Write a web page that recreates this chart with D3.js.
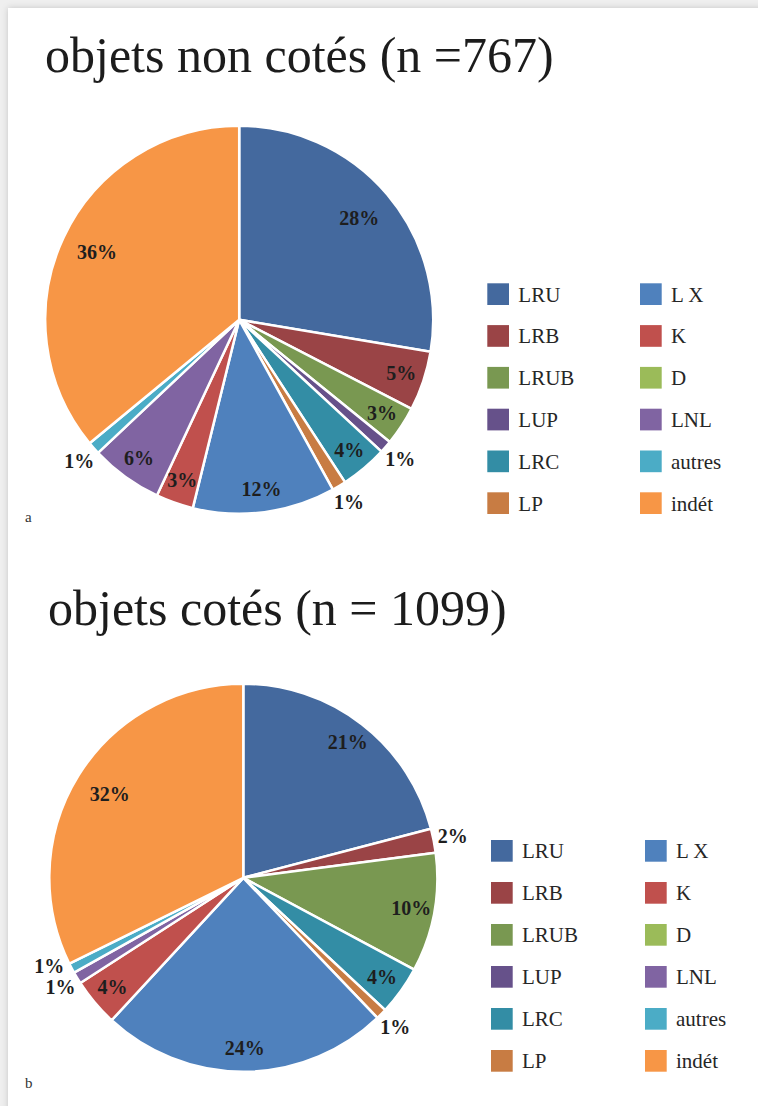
<!DOCTYPE html>
<html>
<head>
<meta charset="utf-8">
<script src="https://cdn.jsdelivr.net/npm/d3@7/dist/d3.min.js"></script>
<style>
  html, body { margin: 0; padding: 0; background: #ffffff; }
  svg { display: block; }
</style>
</head>
<body>
<svg id="chart" width="758" height="1106"></svg>
<script>
// Categories, in drawing order (clockwise from 12 o'clock)
const categories = ["LRU", "LRB", "LRUB", "LUP", "LRC", "LP", "L X", "K", "D", "LNL", "autres", "indét"];
const categoryColors = ["#44699e", "#9a4446", "#799851", "#66518a", "#338da5", "#c87c43",
                        "#4f81bd", "#c0504d", "#9bbb59", "#8064a2", "#4bacc6", "#f79646"];

// Object counts per category
const countsNonCotes = [212, 38, 25, 8, 30, 9, 91, 24, 0, 46, 8, 276]; // n = 767
const countsCotes    = [230, 22, 109, 0, 45, 10, 264, 44, 0, 11, 9, 355]; // n = 1099

const titleNonCotes = "objets non cotés (n =767)";
const titleCotes = "objets cotés (n = 1099)";
const panelLetters = ["a", "b"];

const svg = d3.select("#chart");
const W = 758, H = 1106;

// page background with a soft shadow along the top and left edges
const defs = svg.append("defs");
const shadow = defs.append("filter").attr("id", "pageShadow")
  .attr("x", "-5%").attr("y", "-5%").attr("width", "110%").attr("height", "110%");
shadow.append("feDropShadow").attr("dx", 0).attr("dy", 0)
  .attr("stdDeviation", 3).attr("flood-color", "#000").attr("flood-opacity", 0.18);
svg.append("rect").attr("width", W).attr("height", H).attr("fill", "#efefef");
svg.append("rect").attr("x", 8).attr("y", 8).attr("width", W + 20).attr("height", H + 20)
  .attr("fill", "#ffffff").attr("filter", "url(#pageShadow)");

const color = d3.scaleOrdinal().domain(categories).range(categoryColors);
const serif = "'Liberation Serif', 'DejaVu Serif', serif";

function drawPanel(values, title, letter, layout) {
  const g = svg.append("g");
  const total = d3.sum(values);
  const data = categories.map((c, i) => ({ cat: c, value: values[i] }));

  // title
  g.append("text")
    .attr("x", layout.titleX).attr("y", layout.titleY)
    .attr("font-family", serif).attr("font-size", 50)
    .attr("fill", "#1c1c1c")
    .text(title);

  // panel letter
  g.append("text")
    .attr("x", 25).attr("y", layout.letterY)
    .attr("font-family", serif).attr("font-size", 15)
    .attr("fill", "#333")
    .text(letter);

  const r = layout.r;
  const pie = d3.pie().sort(null).value(d => d.value);
  const arcs = pie(data);
  const arc = d3.arc().innerRadius(0).outerRadius(r);

  const pg = g.append("g").attr("transform", `translate(${layout.cx},${layout.cy})`);
  pg.selectAll("path.slice")
    .data(arcs.filter(d => d.data.value > 0))
    .join("path")
    .attr("class", "slice")
    .attr("d", arc)
    .attr("fill", d => color(d.data.cat))
    .attr("stroke", "#ffffff")
    .attr("stroke-width", 2.5)
    .attr("stroke-linejoin", "round");

  // percentage labels: large slices inside, small ones just outside the rim
  const pct = d => Math.round(d.data.value / total * 100);
  const labels = arcs.filter(d => d.data.value > 0).map(d => {
    const p = pct(d);
    let k;
    if (p >= 25) k = 0.81;
    else if (p >= 3) k = 0.88;
    else k = 1.1;
    const a = (d.startAngle + d.endAngle) / 2;
    return { d, p, k, a, outside: p < 3 };
  });
  // keep neighbouring outside labels from overlapping
  const place = l => ({ x: Math.sin(l.a) * r * l.k, y: -Math.cos(l.a) * r * l.k });
  let prev = null;
  labels.forEach(l => {
    if (!l.outside) { return; }
    if (prev) {
      let pos = place(l), pp = place(prev);
      let guard = 0;
      while (Math.abs(pos.y - pp.y) < 21 && Math.abs(pos.x - pp.x) < 34 && guard < 200) {
        l.a += 0.002;
        pos = place(l);
        guard++;
      }
    }
    prev = l;
  });

  pg.selectAll("text.lbl")
    .data(labels)
    .join("text")
    .attr("class", "lbl")
    .attr("x", l => place(l).x)
    .attr("y", l => place(l).y)
    .attr("dy", "0.33em")
    .attr("text-anchor", "middle")
    .attr("font-family", serif).attr("font-size", 20).attr("font-weight", "bold")
    .attr("fill", "#1e1e1e")
    .text(l => l.p + "%");

  // legend, filled column by column
  const lg = g.append("g").attr("transform", `translate(${layout.legendX},${layout.legendY})`);
  const rows = 6;
  const items = lg.selectAll("g.item").data(categories).join("g")
    .attr("class", "item")
    .attr("transform", (c, i) => `translate(${Math.floor(i / rows) * layout.colStep},${(i % rows) * layout.rowStep})`);
  items.append("rect")
    .attr("width", 21.7).attr("height", 21.7)
    .attr("fill", c => color(c));
  items.append("text")
    .attr("x", 31).attr("y", 10.85).attr("dy", "0.35em")
    .attr("font-family", serif).attr("font-size", 21)
    .attr("fill", "#262626")
    .text(c => c);
}

drawPanel(countsNonCotes, titleNonCotes, panelLetters[0], {
  titleX: 45, titleY: 72, letterY: 522,
  cx: 239.2, cy: 319.8, r: 194,
  legendX: 487.3, legendY: 283.3, rowStep: 41.8, colStep: 152.7
});
drawPanel(countsCotes, titleCotes, panelLetters[1], {
  titleX: 48, titleY: 625, letterY: 1088,
  cx: 243.3, cy: 877.8, r: 194,
  legendX: 491, legendY: 840, rowStep: 42, colStep: 154
});
</script>
</body>
</html>
